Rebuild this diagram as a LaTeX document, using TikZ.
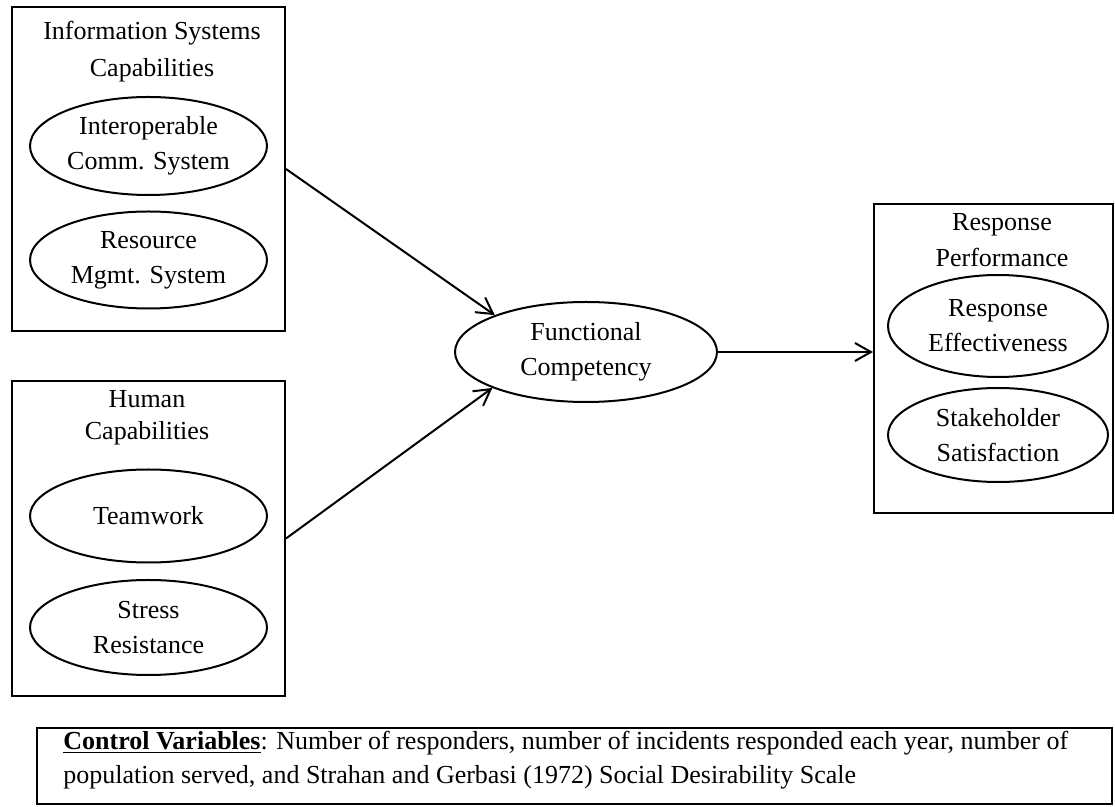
\documentclass[tikz,border=0pt]{standalone}
\usepackage{fontspec}
\setmainfont{Liberation Serif}
\usetikzlibrary{shapes.geometric, arrows.meta}
\begin{document}
\begin{tikzpicture}[x=0.5pt,y=-0.5pt,
  every node/.style={font=\fontsize{13}{17.5}\selectfont},
  frame/.style={draw, line width=1pt, inner sep=0pt},
  oval/.style={draw, ellipse, line width=1pt, inner sep=0pt, align=center},
  heading/.style={align=center, inner sep=0pt},
  arr/.style={line width=1pt, -{Straight Barb[length=8pt,width=9pt,line width=1pt]}}]
\useasboundingbox (0,0) rectangle (1115,807);
% frames
\node[frame, minimum width=136.5pt, minimum height=162pt] (isc) at (148.5,169) {};
\node[frame, minimum width=136.5pt, minimum height=157.5pt] (hc) at (148.5,538.5) {};
\node[frame, minimum width=119.5pt, minimum height=154.5pt] (rp) at (993.5,358.5) {};
\node[frame, minimum width=537.5pt, minimum height=38pt] (cv) at (574.5,766) {};
% headings
\node[heading, font=\fontsize{13}{18.5}\selectfont] (isct) at (152,51.5) {Information Systems\\Capabilities};
\node[heading, font=\fontsize{13}{16}\selectfont] (hct) at (147,417.5) {Human\\Capabilities};
\node[heading, font=\fontsize{13}{18}\selectfont] (rpt) at (1002,240) {Response\\Performance};
% ellipses
\node[oval, minimum width=118.5pt, minimum height=49pt] (ics) at (148.5,146) {Interoperable\\Comm. System};
\node[oval, minimum width=118.5pt, minimum height=48.5pt] (rms) at (148.5,260) {Resource\\Mgmt. System};
\node[oval, minimum width=118.5pt, minimum height=46.5pt] (tw) at (148.5,516) {Teamwork};
\node[oval, minimum width=118.5pt, minimum height=47.5pt] (sr) at (148.5,627.5) {Stress\\Resistance};
\node[oval, minimum width=131pt, minimum height=50pt] (fc) at (586,352) {Functional\\Competency};
\node[oval, minimum width=110pt, minimum height=51pt] (re) at (998,326) {Response\\Effectiveness};
\node[oval, minimum width=110pt, minimum height=47pt] (ss) at (998,435) {Stakeholder\\Satisfaction};
% control variables
\node[anchor=west, align=left, inner sep=0pt, font=\fontsize{13}{17}\selectfont] (cvt) at (63,760)
  {\underline{\textbf{Control Variables}}: Number of responders, number of incidents responded each year, number of\\population served, and Strahan and Gerbasi (1972) Social Desirability Scale};
% connectors
\draw[arr] (isc.east) -- (fc.158);
\draw[arr] (hc.east) -- (fc.201);
\draw[arr] (fc.east) -- (fc.east -| rp.west);
\end{tikzpicture}
\end{document}
